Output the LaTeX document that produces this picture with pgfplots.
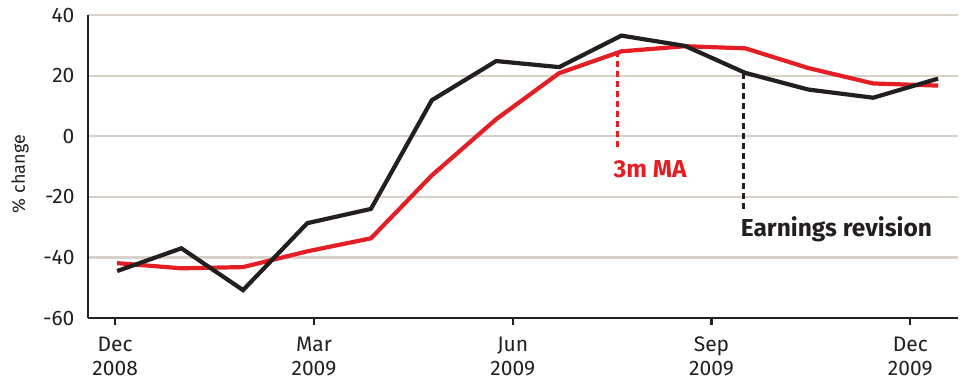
\documentclass[border=0pt]{standalone}
\usepackage{pgfplots}
\pgfplotsset{compat=1.18}
\usepackage{fontspec}
\setmainfont{Fira Sans}
\definecolor{ink}{RGB}{35,31,32}
\definecolor{mared}{RGB}{227,30,36}
\definecolor{gridc}{RGB}{215,209,201}
\begin{document}
\begin{tikzpicture}[x=1pt,y=1pt]
\useasboundingbox (0,0) rectangle (961,380);
\begin{axis}[
  at={(88pt,62pt)}, anchor=south west,
  scale only axis, width=870pt, height=303pt,
  xmin=-0.41, xmax=12.72, ymin=-60, ymax=40,
  axis lines=left, axis line style={line width=2.2pt, ink, -},
  ytick={-60,-40,-20,0,20,40},
  xtick={0,3,6,9,12},
  xticklabels={{Dec\\2008},{Mar\\2009},{Jun\\2009},{Sep\\2009},{Dec\\2009}},
  xticklabel style={align=center, font=\fontsize{21}{24}\selectfont, text=ink},
  yticklabel style={font=\fontsize{21}{23}\selectfont, text=ink},
  /pgf/number format/assume math mode=true,
  major x tick style={line width=2.2pt, ink},
  tick align=outside, major tick length=7pt,
  ytick style={draw=none},
  ymajorgrids, grid style={line width=2.2pt, gridc},
  xticklabel shift=8pt, yticklabel shift=3pt,
  ylabel={\% change}, ylabel style={font=\fontsize{18}{20}\selectfont, text=ink, at={(-68pt,0.475)}, anchor=center},
  clip=false,
]
\addplot[mared, line width=4.2pt, line join=miter] coordinates {
(0.03,-41.9)(1.0,-43.6)(1.93,-43.2)(2.9,-38.0)(3.86,-33.7)(4.78,-12.9)(5.75,5.6)(6.70,20.8)(7.64,28.0)(8.60,29.7)(9.51,29.0)(10.46,22.5)(11.44,17.4)(12.42,16.7)};
\addplot[ink, line width=4.2pt, line join=miter] coordinates {
(0.03,-44.5)(1.0,-37.0)(1.93,-50.8)(2.9,-28.7)(3.86,-24.0)(4.78,11.9)(5.75,24.8)(6.70,22.8)(7.64,33.2)(8.60,29.8)(9.51,20.9)(10.46,15.4)(11.44,12.7)(12.42,19.0)};
\addplot[mared, line width=2.6pt, dash pattern=on 6pt off 4pt] coordinates {(7.58,28)(7.58,-5)};
\addplot[ink, line width=2.6pt, dash pattern=on 6pt off 4pt] coordinates {(9.48,20.8)(9.48,-25.4)};
\node[anchor=west, text=mared, font=\fontsize{24.5}{26}\selectfont\bfseries, inner sep=0pt] at (axis cs:7.52,-10.9) {3m MA};
\node[anchor=west, text=ink, font=\fontsize{24.5}{26}\selectfont\bfseries, inner sep=0pt] at (axis cs:9.44,-30.7) {Earnings revision};
\end{axis}
\end{tikzpicture}
\end{document}
